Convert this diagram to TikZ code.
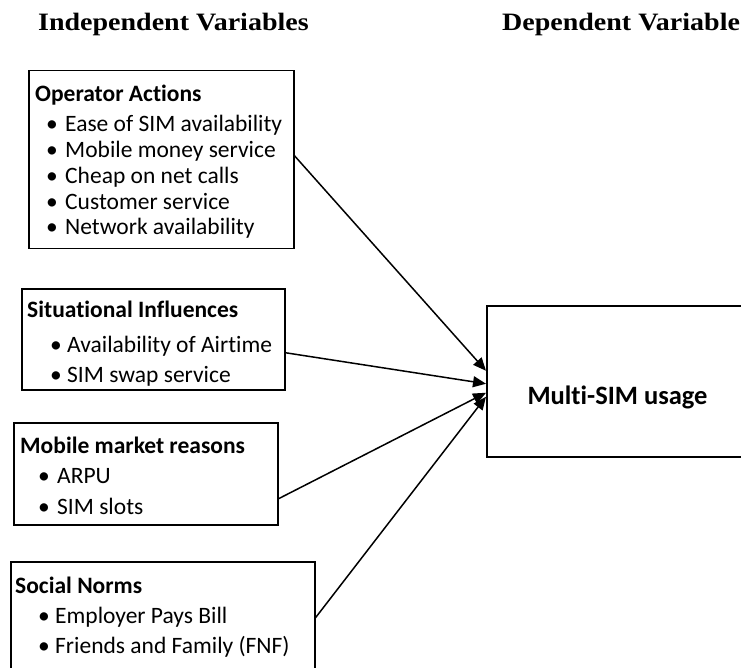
\documentclass[tikz,border=0pt]{standalone}
\usepackage{fontspec}
\usepackage{graphicx}
\setmainfont{Carlito}[Ligatures=NoCommon]
\newfontfamily\headserif{Liberation Serif}
\usetikzlibrary{positioning,arrows.meta}
\newcommand{\bl}[1][17pt]{\makebox[#1][l]{\textbullet}}

\begin{document}
\begin{tikzpicture}[x=1pt, y=-1pt,
    box/.style={draw, line width=1.5pt, anchor=north west, inner sep=0pt},
    hd/.style={anchor=base west, inner sep=0pt, font=\fontsize{23.5}{28}\selectfont\bfseries},
    it/.style={anchor=base west, inner sep=0pt, font=\fontsize{23.5}{28}\selectfont},
    ttl/.style={anchor=base west, inner sep=0pt, font=\headserif\fontsize{25}{30}\selectfont\bfseries},
    into/.style={-{Triangle[length=13pt, width=11pt]}}]
        \useasboundingbox (0,0) rectangle (741,668);

        \node[ttl] (iv) at (38,31) {\scalebox{1.12}[1]{Independent Variables}};
        \node[ttl] (dv) at (502,31) {\scalebox{1.12}[1]{Dependent Variable}};

        % the four groups of factors
        \node[box, minimum width=265pt, minimum height=178pt] (op) at (28,70) {};
        \node[hd] (op0) at (35,102) {Operator Actions};
        \node[it] (op1) at (46,132) {\bl[19pt]Ease of SIM availability};
        \node[it] (op2) at (46,158) {\bl[19pt]Mobile money service};
        \node[it] (op3) at (46,184) {\bl[19pt]Cheap on net calls};
        \node[it] (op4) at (46,210) {\bl[19pt]Customer service};
        \node[it] (op5) at (46,235) {\bl[19pt]Network availability};

        \node[box, minimum width=263pt, minimum height=101pt] (si) at (21,288) {};
        \node[hd] (si0) at (27,317) {Situational Influences};
        \node[it] (si1) at (50,352) {\bl Availability of Airtime};
        \node[it] (si2) at (50,382) {\bl SIM swap service};

        \node[box, minimum width=264pt, minimum height=102pt] (mm) at (13,422) {};
        \node[hd] (mm0) at (20,453) {Mobile market reasons};
        \node[it] (mm1) at (38,483) {\bl[19pt]ARPU};
        \node[it] (mm2) at (38,514) {\bl[19pt]SIM slots};

        \node[box, minimum width=304pt, minimum height=112pt] (sn) at (10,561) {};
        \node[hd] (sn0) at (15,593) {Social Norms};
        \node[it] (sn1) at (38,623) {\bl Employer Pays Bill};
        \node[it] (sn2) at (38,653) {\bl Friends and Family (FNF)};

        % outcome
        \node[box, minimum width=263pt, minimum height=151pt] (ms) at (486,305) {};
        \node[hd, anchor=base, font=\fontsize{26.5}{30}\selectfont\bfseries] (ms0) at (617.5,404) {Multi-SIM usage};

        \draw[line width=1.5pt] ([yshift=4pt]op.east) edge[into] ([yshift=10.5pt]ms.west) ([yshift=-13.5pt]si.east) edge[into] ([yshift=-2.5pt]ms.west);
        \draw[line width=1.5pt] ([yshift=-25pt]mm.east) edge[into] ([yshift=-11.5pt]ms.west) (sn.east) edge[into] ([yshift=-15.5pt]ms.west);

\end{tikzpicture}
\end{document}
